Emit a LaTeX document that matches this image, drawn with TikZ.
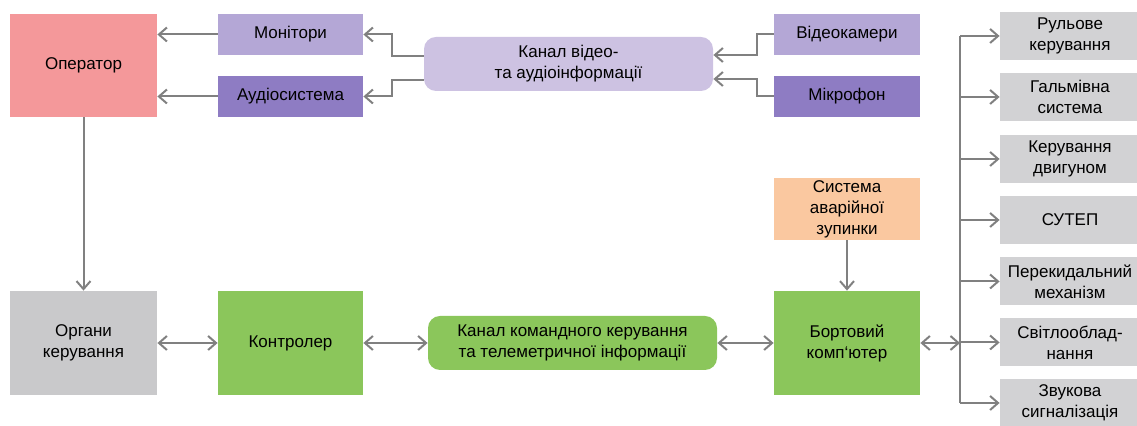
\documentclass[tikz,border=0pt]{standalone}
\usepackage{fontspec}
\setmainfont{Liberation Sans}
\usetikzlibrary{positioning, arrows.meta}
\usepackage{xcolor}
\definecolor{opred}{HTML}{F4989A}
\definecolor{lilac}{HTML}{B4A7D6}
\definecolor{violet}{HTML}{8E7CC3}
\definecolor{pale}{HTML}{CDC2E2}
\definecolor{grey}{HTML}{C9C9CB}
\definecolor{lgrey}{HTML}{D2D2D4}
\definecolor{leaf}{HTML}{8BC65B}
\definecolor{peach}{HTML}{FAC8A0}
\definecolor{wire}{HTML}{808080}

\begin{document}
\begin{tikzpicture}[x=0.5pt, y=-0.5pt,
    blk/.style={inner sep=0pt, align=center, font=\fontsize{8.5}{10.5}\selectfont},
    arr/.style={draw=wire, line width=1pt, -{Straight Barb[length=4pt,width=7pt]}},
    arr2/.style={draw=wire, line width=1pt, {Straight Barb[length=4pt,width=7pt]}-{Straight Barb[length=4pt,width=7pt]}}]

        \clip (0,0) rectangle (1137,426);

        % Upper part
        \node[blk, fill=opred, minimum width=73.5pt, minimum height=51.5pt] (op) at (83.5, 65.5) {Оператор};
        \node[blk, fill=lilac, minimum width=72.5pt, minimum height=20.5pt] (mon) at (290.5, 34.5) {Монітори};
        \node[blk, fill=violet, minimum width=72.5pt, minimum height=20.5pt] (aud) at (290.5, 96.5) {Аудіосистема};
        \node[blk, fill=pale, rounded corners=6pt, minimum width=144.5pt, minimum height=27pt] (vch) at (568.5, 64) {Канал відео-\\та аудіоінформації};
        \node[blk, fill=lilac, minimum width=73pt, minimum height=20.5pt] (cam) at (847, 34.5) {Відеокамери};
        \node[blk, fill=violet, minimum width=73pt, minimum height=20.5pt] (mic) at (847, 96.5) {Мікрофон};
        \node[blk, fill=peach, minimum width=73pt, minimum height=31pt] (stop) at (847, 209) {Система\\аварійної\\зупинки};

        % Lower part
        \node[blk, fill=grey, minimum width=73.5pt, minimum height=52pt] (org) at (83.5, 343) {Органи\\керування};
        \node[blk, fill=leaf, minimum width=72.5pt, minimum height=52pt] (ctl) at (290.5, 343) {Контролер};
        \node[blk, fill=leaf, rounded corners=6pt, minimum width=144.5pt, minimum height=27pt] (cch) at (572.5, 343) {Канал командного керування\\та телеметричної інформації};
        \node[blk, fill=leaf, minimum width=73pt, minimum height=52pt] (obc) at (847, 343) {Бортовий\\комп`ютер};

        % Actuators
        \node[blk, fill=lgrey, minimum width=70pt, minimum height=24pt] (r1) at (1070, 36) {Рульове\\керування};
        \node[blk, fill=lgrey, minimum width=70pt, minimum height=24pt] (r2) at (1070, 97) {Гальмівна\\система};
        \node[blk, fill=lgrey, minimum width=70pt, minimum height=24pt] (r3) at (1070, 159) {Керування\\двигуном};
        \node[blk, fill=lgrey, minimum width=70pt, minimum height=24pt] (r4) at (1070, 220) {СУТЕП};
        \node[blk, fill=lgrey, minimum width=70pt, minimum height=24pt] (r5) at (1070, 281.5) {Перекидальний\\механізм};
        \node[blk, fill=lgrey, minimum width=70pt, minimum height=24pt] (r6) at (1070, 342.5) {Світлооблад-\\нання};
        \node[blk, fill=lgrey, minimum width=70pt, minimum height=24pt] (r7) at (1070, 403) {Звукова\\сигналізація};

        % Bends
        \coordinate (va) at (392, 56);
        \coordinate (vd) at (392, 80);
        \coordinate (vb) at (757, 55);
        \coordinate (vc) at (757, 79);
        \coordinate (bus) at (960, 343);

        % Video and audio
        \draw[arr] (mon) -- (op.east |- mon);
        \draw[arr] (aud) -- (op.east |- aud);
        \draw[arr] (vch.west |- va) -- (va) |- (mon.east);
        \draw[arr] (vch.west |- vd) -- (vd) |- (aud.east);
        \draw[arr] (cam.west) -| (vb) -- (vb -| vch.east);
        \draw[arr] (mic.west) -| (vc) -- (vc -| vch.east);

        % Control
        \draw[arr] (op) -- (org);
        \draw[arr] (stop) -- (obc);
        \draw[arr2] (org) -- (ctl);
        \draw[arr2] (ctl) -- (cch);
        \draw[arr2] (cch) -- (obc);
        \draw[arr2] (obc) -- (bus);

        % Bus
        \draw[draw=wire, line width=1pt] (bus |- r1.west) -- (bus |- r7.west);
        \foreach \i in {1,...,7}
            \draw[arr] (bus |- r\i.west) -- (r\i.west);

    \end{tikzpicture}
\end{document}
